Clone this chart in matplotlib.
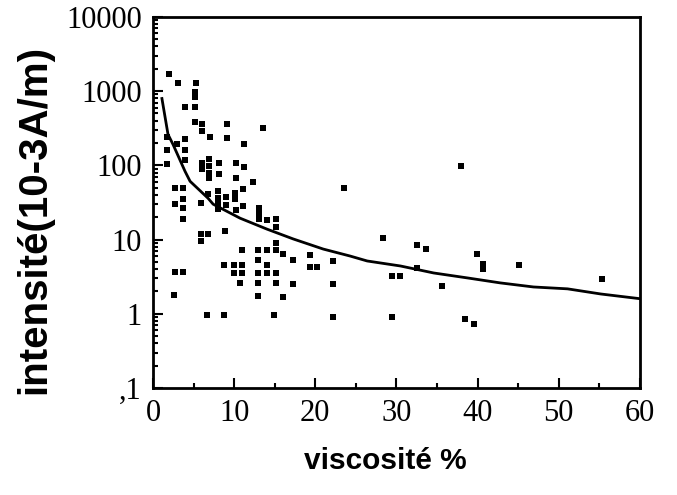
import matplotlib
matplotlib.use("Agg")
import matplotlib.pyplot as plt
from matplotlib.ticker import FixedLocator, FixedFormatter, LogLocator, NullFormatter, MultipleLocator

# ---- scatter data: viscosité %, intensité ----
visc = [2.0, 3.1, 5.3, 5.2, 5.2, 4.0, 5.2, 5.2, 6.0, 6.0,
        9.1, 13.5, 7.0, 9.1, 1.7, 3.0, 4.0, 1.7, 4.0, 11.2,
        4.0, 1.7, 6.0, 6.0, 6.9, 6.9, 6.9, 6.9, 8.1, 8.1,
        10.2, 11.2, 10.2, 12.3, 23.5, 2.7, 3.7, 6.8, 8.0, 8.0,
        8.0, 8.0, 9.0, 9.0, 10.1, 10.1, 10.2, 11.1, 11.1, 13.1,
        13.1, 13.1, 14.1, 15.2, 15.2, 2.7, 3.7, 3.7, 3.7, 5.9,
        5.9, 5.9, 6.8, 8.9, 11.0, 13.0, 14.1, 15.2, 15.2, 16.0,
        17.3, 19.3, 19.3, 20.2, 22.2, 13.0, 14.1, 8.8, 10.0, 11.0,
        10.0, 11.0, 13.0, 14.1, 15.2, 2.7, 3.7, 10.7, 13.0, 15.2,
        17.3, 22.2, 2.6, 13.0, 16.0, 6.7, 8.8, 14.9, 22.2, 38.0,
        28.4, 32.6, 33.6, 39.9, 40.7, 40.7, 45.1, 55.4, 29.5, 30.5,
        32.6, 35.6, 29.4, 38.5, 39.6]
intens = [1718, 1300, 1300, 985, 844, 601, 601, 378, 355, 286,
          365, 320, 238, 230, 238, 191, 223, 159, 159, 191,
          117, 103, 106, 88, 120, 97, 78, 67, 106, 76,
          106, 94, 67, 59, 49, 49, 49, 41, 45, 36,
          30, 25.7, 37, 29, 43, 35, 24.9, 48, 28, 26.5,
          22, 18.8, 18.3, 18.8, 14.7, 30, 35, 26.5, 18.8, 31,
          11.9, 9.55, 11.9, 13, 7.2, 7.2, 7.2, 7.2, 9.0, 6.4,
          5.3, 6.2, 4.3, 4.3, 5.15, 5.3, 4.5, 4.5, 4.5, 4.5,
          3.55, 3.55, 3.55, 3.55, 3.55, 3.66, 3.66, 2.61, 2.61, 2.61,
          2.53, 2.53, 1.80, 1.74, 1.69, 0.95, 0.95, 0.95, 0.92, 97,
          10.5, 8.4, 7.45, 6.4, 4.7, 4.0, 4.5, 2.95, 3.24, 3.24,
          4.15, 2.38, 0.9, 0.85, 0.72]

# ---- fitted curve, points ----
curve_x = [1.1, 1.85, 2.47, 3.95, 4.57, 6.79, 7.41, 10.74, 14.07, 17.28,
           20.99, 24.3, 26.4, 30.5, 34.6, 38.8, 42.8, 46.9, 51.1, 55.2, 60.0]
curve_y = [794, 261, 191, 83, 61, 36, 30, 19.4, 13.8, 10.2,
           7.45, 6.0, 5.15, 4.41, 3.55, 3.04, 2.61, 2.30, 2.17, 1.85, 1.6]

y_ticks = [0.1, 1, 10, 100, 1000, 10000]
y_tick_labels = [",1", "1", "10", "100", "1000", "10000"]
x_ticks = [0, 10, 20, 30, 40, 50, 60]

fig = plt.figure(figsize=(6.77, 4.95), dpi=100)
ax = fig.add_axes([0.226, 0.216, 0.719, 0.750])

ax.plot(curve_x, curve_y, color="black", linewidth=2.0, zorder=2)
ax.scatter(visc, intens, marker="s", s=22, color="black", linewidths=0, zorder=3)

ax.set_yscale("log")
ax.set_xlim(0, 60)
ax.set_ylim(0.1, 10000)

ax.yaxis.set_major_locator(FixedLocator(y_ticks))
ax.yaxis.set_major_formatter(FixedFormatter(y_tick_labels))
ax.yaxis.set_minor_locator(LogLocator(base=10, subs=range(2, 10), numticks=20))
ax.yaxis.set_minor_formatter(NullFormatter())
ax.xaxis.set_major_locator(FixedLocator(x_ticks))
ax.xaxis.set_minor_locator(MultipleLocator(5))

for s in ax.spines.values():
    s.set_linewidth(2.0)

ax.tick_params(which="both", direction="in", top=False, right=False, width=1.5)
ax.tick_params(which="major", length=7, pad=8)
ax.tick_params(which="minor", length=3.5)

serif = ["Liberation Serif", "DejaVu Serif"]
for lab in ax.get_xticklabels() + ax.get_yticklabels():
    lab.set_fontfamily(serif)
    lab.set_fontsize(22)

ax.set_xlabel("viscosité %", fontsize=21.5, fontweight="bold",
              family=["Liberation Sans", "DejaVu Sans"])
ax.set_ylabel("intensité(10-3A/m)", fontsize=29, fontweight="bold",
              family=["Liberation Sans", "DejaVu Sans"])
ax.xaxis.set_label_coords(0.478, -0.16)
ax.yaxis.set_label_coords(-0.205, 0.455)

fig.savefig("out.png", dpi=100)
